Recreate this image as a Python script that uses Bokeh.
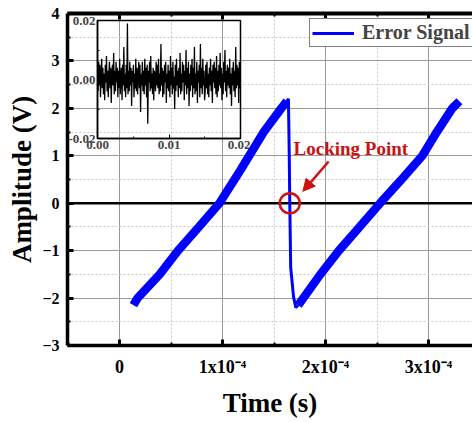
import numpy as np
from bokeh.plotting import figure
from bokeh.models import (Range1d, FixedTicker, CustomJSTickFormatter, NumeralTickFormatter,
                          Span, Arrow, NormalHead, LinearAxis, Legend, LegendItem, Label)
from bokeh.layouts import column
from bokeh.embed import file_html
from bokeh.resources import INLINE

# ---------------- data ----------------
# rising ramp 1 (time in s, amplitude in V)
ramp1_t = [0.135e-4, 0.175e-4, 0.39e-4, 0.568e-4, 0.77e-4, 0.97e-4, 1.175e-4, 1.40e-4, 1.57e-4, 1.625e-4]
ramp1_v = [-2.15, -2.0, -1.5, -1.0, -0.5, 0.0, 0.7, 1.5, 2.0, 2.15]
# fast falling edge (locking)
drop_t = [1.625e-4, 1.640e-4, 1.648e-4, 1.653e-4, 1.662e-4, 1.69e-4, 1.712e-4, 1.735e-4]
drop_v = [2.15, 2.2, 1.0, 0.0, -1.36, -1.98, -2.2, -2.15]
# rising ramp 2
ramp2_t = [1.735e-4, 1.95e-4, 2.13e-4, 2.33e-4, 2.53e-4, 2.73e-4, 2.94e-4, 3.08e-4, 3.23e-4, 3.30e-4]
ramp2_v = [-2.15, -1.5, -1.0, -0.5, 0.0, 0.48, 1.0, 1.5, 2.0, 2.15]

# inset: residual noise at the locking point (mV)
noise_mv = [
    3, -4, 6, -2, 5, -6, 1, 7, -3, 4, -5, 2, -7, 5, -1, 8, -4, 3, -6, 2,
    6, -3, 4, -8, 2, 5, -2, 9, -5, 3, -4, 6, -1, 4, -6, 3, -3, 7, -5, 1,
    4, -7, 5, -2, 11, -4, 2, -6, 5, -3, 19, -5, 3, -4, 6, -2, 4, -9, 3, -1,
    5, -6, 2, -3, 7, -4, 4, -5, 1, 6, -3, 5, -11, 2, -2, 6, -4, 3, -5, 7,
    -2, 4, -6, 5, -15, 3, -1, 6, -4, 8, -3, 2, -5, 4, -7, 3, 1, -4, 6, -2,
    5, -3, 7, -5, 2, -4, 12, -2, 4, -6, 3, -5, 5, -1, 6, -8, 2, -3, 5, -4,
    3, -6, 8, -2, 4, -5, 6, -3, 1, -10, 5, -4, 7, -2, 3, -6, 4, -3, 9, -5,
    2, -4, 6, -1, 5, -7, 3, -2, 10, -5, 4, -3, 6, -9, 2, -4, 5, -2, 7, -6,
    4, -3, 11, -5, 2, -4, 6, -8, 3, -1, 5, -6, 12, -3, 4, -5, 7, -2, 3, -7,
    -4, 5, -3, 6, -5, 2, -6, 4, -2, 7, -4, 3, -8, 5, -1, 6, -3, 4, -5, 8,
    -6, 3, -4, 5, -2, 9, -3, 4, -7, 2, -5, 6, -1, 10, -4, 3, -6, 5, -2, 4,
    -3, 7, -5, 2, -9, 4, -2, 6, -4, 3, -6, 11, -3, 5, -2, 4, -8, 6, -3, 2,
]
noise_v = [v * 1e-3 for v in noise_mv]
noise_t = np.linspace(0.0, 0.02, len(noise_v))

x_ticks = [0.0, 1e-4, 2e-4, 3e-4]
x_tick_labels = ["0", "1x10\u207b\u2074", "2x10\u207b\u2074", "3x10\u207b\u2074"]
x_minor = [-0.5e-4, 0.5e-4, 1.5e-4, 2.5e-4, 3.5e-4]
y_ticks = [-3, -2, -1, 0, 1, 2, 3, 4]
y_minor = [-2.5, -1.5, -0.5, 0.5, 1.5, 2.5, 3.5]

lock_t, lock_v = [1.653e-4], [0.0]
arrow_from = (2.03e-4, 0.88)
arrow_to = (1.78e-4, 0.25)
lock_label_pos = (1.69e-4, 1.16)

inset_x_ticks = [0.0, 0.01, 0.02]
inset_x_minor = [0.005, 0.015]
inset_y_ticks = [-0.02, 0.0, 0.02]
inset_y_minor = [-0.01, 0.01]

FONT = "Liberation Serif"
BLUE = "#0000ff"
RED = "#cc1111"

# ---------------- main figure ----------------
p = figure(width=472, height=420, x_range=Range1d(-0.505e-4, 3.427e-4), y_range=Range1d(-3, 4),
           output_backend="svg", toolbar_location=None,
           min_border_left=67, min_border_right=0, min_border_top=13, min_border_bottom=75)
p.frame_align = False
p.outline_line_color = None
p.background_fill_color = "white"
p.border_fill_color = "white"

for ax in (p.xaxis[0], p.yaxis[0]):
    ax.axis_line_width = 3.5
    ax.axis_line_color = "black"
    ax.major_tick_in = 6
    ax.major_tick_out = 0
    ax.major_tick_line_width = 3
    ax.minor_tick_in = 3
    ax.minor_tick_out = 0
    ax.minor_tick_line_width = 2
    ax.major_label_text_font = FONT
    ax.major_label_text_font_style = "bold"
    ax.major_label_text_color = "black"
    ax.axis_label_text_font = FONT
    ax.axis_label_text_font_style = "bold"
    ax.axis_label_text_font_size = "27px"
    ax.axis_label_text_color = "black"
p.xaxis.major_label_text_font_size = "18px"
p.yaxis.major_label_text_font_size = "16px"

p.xaxis.ticker = FixedTicker(ticks=x_ticks, minor_ticks=x_minor)
p.xaxis.formatter = CustomJSTickFormatter(args=dict(xt=x_ticks, xl=x_tick_labels), code="""
for (let i = 0; i < xt.length; i++) { if (Math.abs(tick - xt[i]) < 1e-9) return xl[i]; }
return "";
""")
p.yaxis.ticker = FixedTicker(ticks=y_ticks, minor_ticks=y_minor)
p.xaxis.axis_label = "Time (s)"
p.yaxis.axis_label = "Amplitude (V)"
p.xaxis.major_label_standoff = 11
p.yaxis.major_label_standoff = 8
p.xaxis.axis_label_standoff = 8
p.yaxis.axis_label_standoff = 2

top_axis = LinearAxis(ticker=FixedTicker(ticks=x_ticks, minor_ticks=x_minor),
                      formatter=CustomJSTickFormatter(code="return '';"),
                      axis_line_width=4, major_tick_in=6, major_tick_out=0, major_tick_line_width=3,
                      minor_tick_in=3, minor_tick_out=0, minor_tick_line_width=2,
                      major_label_text_font_size="0px", major_label_standoff=0)
p.add_layout(top_axis, "above")

p.xgrid.grid_line_color = "#999999"
p.ygrid.grid_line_color = "#999999"
p.xgrid.grid_line_width = 1
p.ygrid.grid_line_width = 1
p.xgrid.minor_grid_line_color = "#c8c8c8"
p.ygrid.minor_grid_line_color = "#c8c8c8"
p.xgrid.minor_grid_line_dash = "2 2"
p.ygrid.minor_grid_line_dash = "2 2"

p.add_layout(Span(location=0, dimension="width", line_color="black", line_width=2.5, level="underlay"))

r1 = p.line(ramp1_t, ramp1_v, line_color=BLUE, line_width=8.5)
r2 = p.line(ramp2_t, ramp2_v, line_color=BLUE, line_width=8.5)
rd = p.line(drop_t, drop_v, line_color=BLUE, line_width=3)

p.scatter(lock_t, lock_v, marker="circle", size=20, fill_color=None, line_color=RED, line_width=2.5)
p.add_layout(Arrow(end=NormalHead(size=12, fill_color=RED, line_color=RED),
                   x_start=arrow_from[0], y_start=arrow_from[1], x_end=arrow_to[0], y_end=arrow_to[1],
                   line_color=RED, line_width=2.5))
p.add_layout(Label(x=lock_label_pos[0], y=lock_label_pos[1], text="Locking Point", text_font=FONT,
                   text_font_style="bold", text_font_size="19px", text_color=RED, text_baseline="middle"))

legend = Legend(items=[LegendItem(label="Error Signal", renderers=[rd])], location=(242, 298),
                label_text_font=FONT, label_text_font_style="bold", label_text_font_size="20px",
                border_line_color="black", border_line_width=1, glyph_width=42, glyph_height=20,
                padding=2, margin=0, spacing=0, label_standoff=8, background_fill_color="white",
                background_fill_alpha=1)
p.add_layout(legend)

# ---------------- inset ----------------
inset = figure(width=185, height=144, x_range=Range1d(0, 0.02), y_range=Range1d(-0.02, 0.02),
               output_backend="svg", toolbar_location=None,
               min_border_left=30, min_border_right=10, min_border_top=8, min_border_bottom=18)
inset.frame_align = False
inset.background_fill_alpha = 0
inset.border_fill_alpha = 0
inset.grid.visible = False
inset.outline_line_color = "black"
inset.outline_line_width = 1.5
inset.xaxis.ticker = FixedTicker(ticks=inset_x_ticks, minor_ticks=inset_x_minor)
inset.yaxis.ticker = FixedTicker(ticks=inset_y_ticks, minor_ticks=inset_y_minor)
inset.xaxis.formatter = NumeralTickFormatter(format="0.00")
inset.yaxis.formatter = NumeralTickFormatter(format="0.00")
for ax in (inset.xaxis[0], inset.yaxis[0]):
    ax.axis_line_width = 1.5
    ax.major_tick_in = 4
    ax.major_tick_out = 0
    ax.minor_tick_in = 2
    ax.minor_tick_out = 0
    ax.major_label_text_font = FONT
    ax.major_label_text_font_style = "bold"
    ax.major_label_text_font_size = "13px"
    ax.major_label_standoff = 2
inset.line(noise_t, noise_v, line_color="black", line_width=1.3)
inset.styles = {"position": "absolute", "left": "65px", "top": "12px", "z-index": "10"}

layout = column(p, inset, width=472, height=420, sizing_mode="fixed",
                styles={"overflow": "hidden", "position": "relative"})
open("out.html", "w").write(file_html(layout, INLINE))
